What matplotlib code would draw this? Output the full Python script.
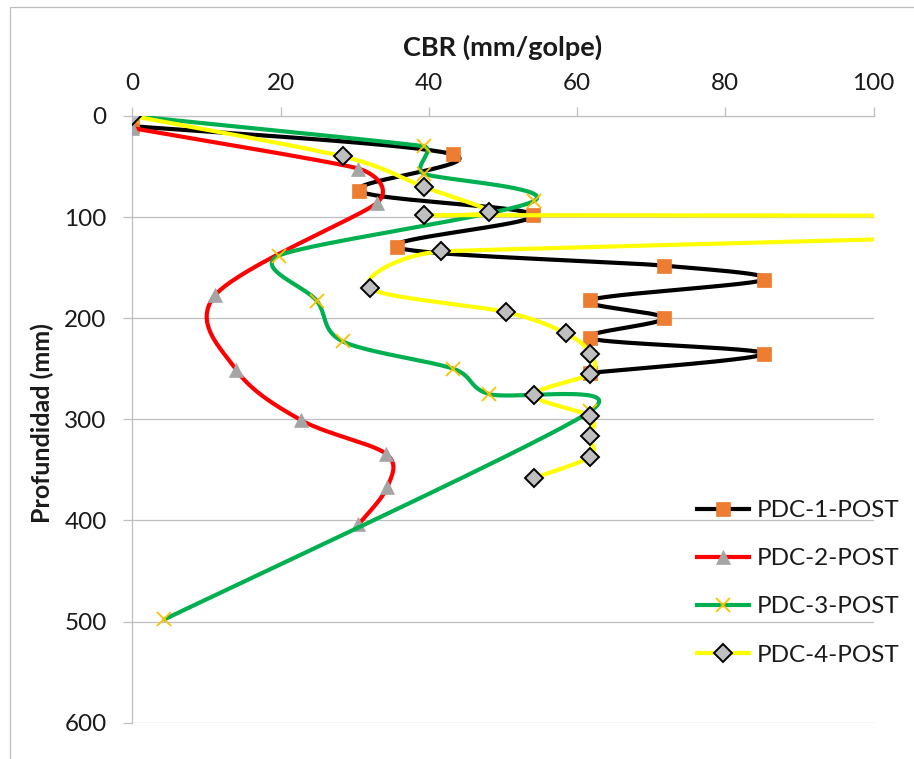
import numpy as np
import matplotlib
matplotlib.use("Agg")
import matplotlib.pyplot as plt
from matplotlib.lines import Line2D
from matplotlib.patches import Rectangle

plt.rcParams['font.family'] = ['Lato', 'DejaVu Sans']

############# data (CBR in mm/golpe, depth in mm) #############
cbr1 = [0, 43.3, 30.6, 54.1, 35.7, 71.7, 85.2, 61.8, 71.7, 61.8, 85.2, 61.8]
prof1 = [10, 38, 74, 98, 130, 148, 162, 182, 200, 220, 235, 254]

cbr2 = [0, 30.5, 33.0, 11.2, 14.0, 22.8, 34.2, 34.4, 30.5]
prof2 = [12, 52, 86, 177, 251, 301, 334, 367, 404]

cbr3 = [0, 39.3, 39.3, 54.2, 19.8, 24.9, 28.4, 43.3, 48.1, 61.8, 4.3]
prof3 = [0, 30, 57, 84, 138, 183, 223, 250, 275, 292, 498]

cbr4 = [0, 28.4, 39.3, 48.1, 39.3, 175, 41.6, 32.0, 50.4, 58.5, 61.8, 61.8,
        54.2, 61.8, 61.8, 61.8, 54.2]
prof4 = [0, 40, 70, 95, 98, 103.5, 134, 170, 194, 215, 235, 255, 276, 297,
         317, 337, 358]

labels = ['PDC-1-POST', 'PDC-2-POST', 'PDC-3-POST', 'PDC-4-POST']
x_ticks = [0, 20, 40, 60, 80, 100]
y_ticks = [0, 100, 200, 300, 400, 500, 600]

W, H = 914, 759
GRID = '#bfbfbf'
TXT = '#1a1a1a'


def excel_smooth(ax, xs, ys, n=40):
    """bezier smoothing like the spreadsheet does it, done in pixel space"""
    P = ax.transData.transform(np.column_stack([xs, ys]))
    m = len(P)
    c_out = np.zeros_like(P)
    c_in = np.zeros_like(P)
    for i in range(m):
        a = P[i - 1] if i > 0 else P[i]
        b = P[i + 1] if i < m - 1 else P[i]
        d02 = np.hypot(*(b - a))
        f = 1 / 6
        if d02 > 0:
            if i > 0:
                f = min(f, np.hypot(*(P[i] - a)) / (2 * d02))
            if i < m - 1:
                f = min(f, np.hypot(*(b - P[i])) / (2 * d02))
        c_out[i] = P[i] + f * (b - a)
        c_in[i] = P[i] - f * (b - a)
    t = np.linspace(0, 1, n)[1:, None]
    out = [P[:1]]
    for i in range(m - 1):
        p0, p1, p2, p3 = P[i], c_out[i], c_in[i + 1], P[i + 1]
        seg = ((1 - t) ** 3) * p0 + 3 * t * (1 - t) ** 2 * p1 \
            + 3 * t ** 2 * (1 - t) * p2 + t ** 3 * p3
        out.append(seg)
    out = np.vstack(out)
    return ax.transData.inverted().transform(out).T


############# figure #############
fig = plt.figure(figsize=(W / 100, H / 100), dpi=100)
ax = fig.add_axes([132.4 / W, 1 - 722.6 / H, (873.5 - 132.4) / W, (722.6 - 116) / H])

ax.set_xlim(0, 100)
ax.set_ylim(600, 0)
ax.set_xticks(x_ticks)
ax.set_yticks(y_ticks)
ax.xaxis.tick_top()

for s in ['right', 'bottom']:
    ax.spines[s].set_visible(False)
for s in ['top', 'left']:
    ax.spines[s].set_color(GRID)
    ax.spines[s].set_linewidth(0.9)

ax.yaxis.grid(True, color=GRID, linewidth=0.9)
ax.set_axisbelow(True)
ax.tick_params(axis='x', length=6.2, width=0.9, color=GRID, labelsize=17.5,
               labelcolor=TXT, pad=10)
ax.tick_params(axis='y', length=6.5, width=0.9, color=GRID, labelsize=17.5,
               labelcolor=TXT, pad=12)

series = [
    (cbr1, prof1, '#000000', dict(marker='s', markersize=10.5, markerfacecolor='#ED7D31',
                                  markeredgecolor='#ED7D31', markeredgewidth=0.5)),
    (cbr2, prof2, '#FF0000', dict(marker='^', markersize=9.5, markerfacecolor='#A5A5A5',
                                  markeredgecolor='#A5A5A5', markeredgewidth=0.5)),
    (cbr3, prof3, '#00B050', dict(marker='x', markersize=9.5, markeredgecolor='#FFC000',
                                  markeredgewidth=1.3)),
    (cbr4, prof4, '#FFFF00', dict(marker='D', markersize=8.8, markerfacecolor='#BFBFBF',
                                  markeredgecolor='#000000', markeredgewidth=1.4)),
]

handles = []
for k, (xs, ys, col, mk) in enumerate(series):
    sx, sy = excel_smooth(ax, xs, ys)
    ax.plot(sx, sy, color=col, linewidth=3.0, solid_capstyle='round', zorder=3 + 2 * k)
    ax.plot(xs, ys, linestyle='none', zorder=4 + 2 * k, **mk)
    handles.append(Line2D([0], [0], color=col, linewidth=3.0, **mk))

leg = ax.legend(handles, labels, loc='upper left', bbox_to_anchor=(697 / W, 1 - 500 / H),
                bbox_transform=fig.transFigure, frameon=False, fontsize=17.5,
                handlelength=2.15, handletextpad=0.3, labelspacing=1.12,
                borderpad=0, borderaxespad=0)
for t in leg.get_texts():
    t.set_color(TXT)

##### titles #####
fig.text(503 / W, 1 - 47 / H, 'CBR (mm/golpe)', ha='center', va='center',
         fontsize=19.5, fontweight='bold', color=TXT)
fig.text(42 / W, 1 - 423 / H, 'Profundidad (mm)', ha='center', va='center',
         rotation=90, fontsize=18, fontweight='bold', color=TXT)

##### chart border (cut at right and bottom) #####
fig.patches.append(Rectangle((9.5 / W, -0.1), 2, 1.1 - 7 / H, transform=fig.transFigure,
                             fill=False, edgecolor=GRID, linewidth=0.9))

fig.savefig('out.png', dpi=100)
